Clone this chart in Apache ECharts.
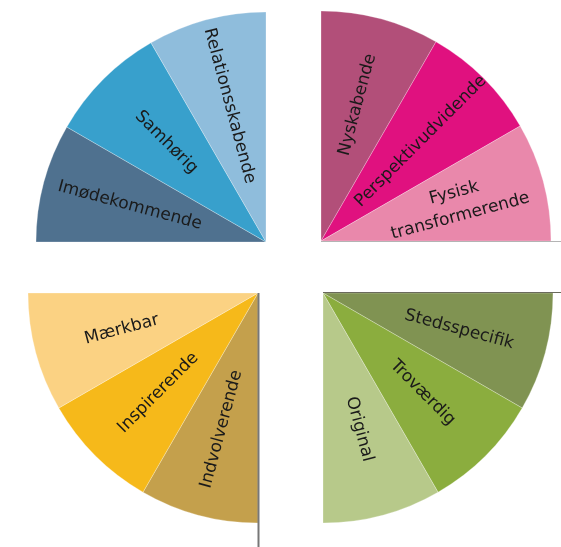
<!DOCTYPE html>
<html>
<head>
<meta charset="utf-8">
<script src="https://cdn.jsdelivr.net/npm/echarts@6/dist/echarts.min.js"></script>
<style>
html,body{margin:0;padding:0;background:#fff;}
#chart{width:561px;height:547px;}
</style>
</head>
<body>
<div id="chart"></div>
<script>
// Quadrant categories (in clockwise drawing order) and values
var catsTL = ['Imødekommende', 'Samhørig', 'Relationsskabende'];
var valsTL = [1, 1, 1];
var catsTR = ['Nyskabende', 'Perspektivudvidende', 'Fysisk\ntransformerende'];
var valsTR = [1, 1, 1];
var catsBR = ['Stedsspecifik', 'Troværdig', 'Original'];
var valsBR = [1, 1, 1];
var catsBL = ['Indvolverende', 'Inspirerende', 'Mærkbar'];
var valsBL = [1, 1, 1];

// Styles
var colTL = ['#4f718f', '#38a0cc', '#8fbddc'];
var colTR = ['#b24f79', '#e0117f', '#e988ab'];
var colBR = ['#809352', '#8bad3e', '#b7c98a'];
var colBL = ['#c4a04c', '#f6b91a', '#fbd283'];

var R = 230;
var FONT = 'DejaVu Sans';

function build(cats, vals, cols) {
  return cats.map(function (c, i) {
    return { name: c, value: vals[i], itemStyle: { color: cols[i] } };
  });
}

function quadrant(cats, vals, cols, center, start, end) {
  var base = {
    type: 'pie',
    center: center,
    startAngle: start,
    endAngle: end,
    clockwise: true,
    animation: false,
    avoidLabelOverlap: false,
    labelLine: { show: false },
    emphasis: { disabled: true }
  };
  var wedges = Object.assign({}, base, {
    radius: [0, R],
    label: { show: false },
    itemStyle: { borderColor: 'rgba(255,255,255,0.45)', borderWidth: 0.6 },
    data: build(cats, vals, cols)
  });
  var labels = Object.assign({}, base, {
    radius: [46, R],
    silent: true,
    z: 5,
    itemStyle: { color: 'rgba(0,0,0,0)', borderWidth: 0 },
    label: {
      show: true,
      position: 'inside',
      rotate: 'radial',
      formatter: '{b}',
      color: '#1a1a1a',
      fontFamily: FONT,
      fontSize: 17,
      lineHeight: 24,
      align: 'center'
    },
    data: build(cats, vals, cols).map(function (d) {
      return { name: d.name, value: d.value, itemStyle: { color: 'rgba(0,0,0,0)' } };
    })
  });
  return [wedges, labels];
}

var series = []
  .concat(quadrant(catsTL, valsTL, colTL, [266, 242], 180, 90))
  .concat(quadrant(catsTR, valsTR, colTR, [321, 241], 90, 0))
  .concat(quadrant(catsBR, valsBR, colBR, [323, 293], 0, -90))
  .concat(quadrant(catsBL, valsBL, colBL, [258, 293], -90, -180));

var chart = echarts.init(document.getElementById('chart'), null, { renderer: 'canvas' });
chart.setOption({
  backgroundColor: '#ffffff',
  animation: false,
  series: series,
  graphic: [
    { type: 'line', z: 100, shape: { x1: 321, y1: 241.5, x2: 561, y2: 241.5 }, style: { stroke: '#b4b4b4', lineWidth: 1 } },
    { type: 'line', z: 100, shape: { x1: 323, y1: 292.5, x2: 561, y2: 292.5 }, style: { stroke: '#6a6a5c', lineWidth: 1.2 } },
    { type: 'line', z: 100, shape: { x1: 258.5, y1: 293, x2: 258.5, y2: 547 }, style: { stroke: '#777777', lineWidth: 2 } }
  ]
});
</script>
</body>
</html>
